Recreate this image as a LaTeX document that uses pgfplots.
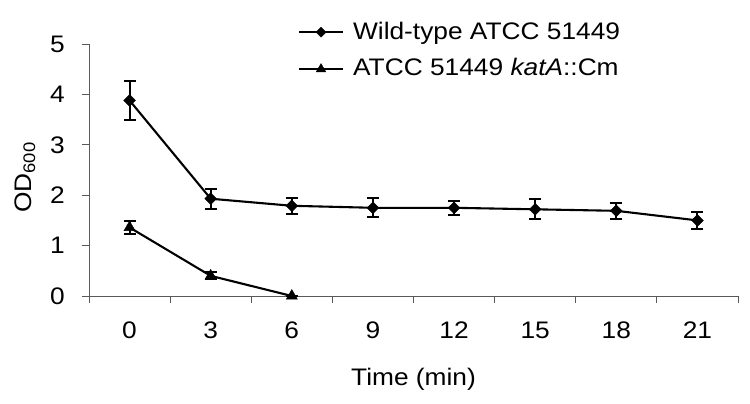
\documentclass[border=0pt]{standalone}
\usepackage{pgfplots}
\pgfplotsset{compat=1.18}
\usepackage{fontspec}
\setmainfont{Liberation Sans}[FakeStretch=1.1]
\pgfplotstableread{
x y e
0 3.88 0.39
1 1.93 0.20
2 1.79 0.16
3 1.75 0.19
4 1.75 0.14
5 1.72 0.20
6 1.69 0.16
7 1.50 0.17
}\wt
\pgfplotstableread{
x y e
0 1.36 0.13
1 0.40 0.07
2 0.00 0.00
}\mut
\begin{document}
\fontsize{24}{28}\selectfont
\begin{tikzpicture}
\useasboundingbox (-89bp,-108bp) rectangle (661bp,296bp);
\begin{axis}[
  at={(0,0)}, anchor=south west,
  scale only axis, width=649bp, height=252bp,
  xmin=-0.5, xmax=7.5, ymin=0, ymax=5,
  clip=false,
  axis lines*=left,
  axis line style={black!65, line width=0.9pt},
  xtick={0,...,7}, xticklabels={0,3,6,9,12,15,18,21},
  minor xtick={-0.5,0.5,...,7.5},
  ytick={0,...,5},
  tick align=outside,
  major tick length=7bp, minor tick length=7bp,
  every tick/.style={black!65, line width=0.9pt},
  major x tick style={draw=none},
  /pgf/number format/assume math mode=true,
  every tick label/.append style={font=\fontsize{24}{28}\selectfont},
  yticklabel style={anchor=east, inner sep=0pt, xshift=-17bp},
  xticklabel style={anchor=north, inner sep=0pt, yshift=-19bp},
  xlabel={Time (min)},
  xlabel style={at={(axis description cs:0.5,-0.33)}, anchor=center, font=\fontsize{24}{28}\selectfont},
  ylabel={OD\textsubscript{600}},
  ylabel style={at={(axis description cs:-0.0986,0.47)}, anchor=center, font=\fontsize{24}{28}\selectfont},
  legend style={at={(axis description cs:0.317,1.105)}, anchor=north west,
    draw=none, fill=none, font=\fontsize{24}{28}\selectfont, row sep=12bp,
    /tikz/every odd column/.append style={column sep=7bp}},
  legend cell align=left,
  legend image code/.code={\draw[mark repeat=2,mark phase=2,#1,line width=2.2pt,every mark/.append style={scale=0.85}] plot coordinates {(0bp,0bp)(22bp,0bp)(44bp,0bp)};},
]
\addplot[black, line width=2.1pt, mark=square*, mark size=4.2pt,
  mark options={rotate=45, line width=0.4pt},
  error bars/.cd, y dir=both, y explicit,
  error bar style={line width=2pt},
  error mark options={rotate=90, mark size=6pt, line width=2pt}]
  table[x=x, y=y, y error=e] {\wt};
\addlegendentry{Wild-type ATCC 51449}
\addplot[black, line width=2.1pt, mark=triangle*, mark size=6.5pt,
  mark options={line width=0.4pt},
  error bars/.cd, y dir=both, y explicit,
  error bar style={line width=2pt},
  error mark options={rotate=90, mark size=6pt, line width=2pt}]
  table[x=x, y=y, y error=e] {\mut};
\addlegendentry{ATCC 51449 \textit{katA}::Cm}
\end{axis}
\end{tikzpicture}
\end{document}
